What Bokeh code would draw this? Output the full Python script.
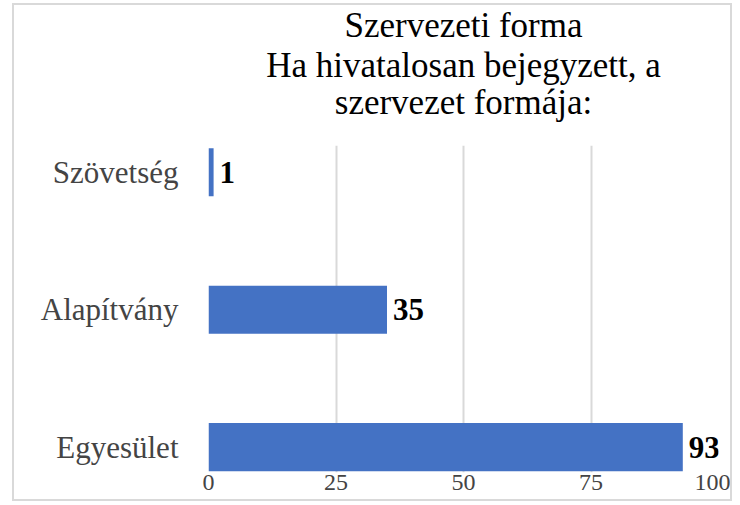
from bokeh.plotting import figure
from bokeh.models import Range1d, FixedTicker, Title, LabelSet, ColumnDataSource
from bokeh.embed import file_html
from bokeh.resources import INLINE

categories = ["Egyesület", "Alapítvány", "Szövetség"]
values = [93, 35, 1]
x_ticks = [0, 25, 50, 75, 100]
title_lines = ["Szervezeti forma", "Ha hivatalosan bejegyzett, a", "szervezet formája:"]

FONT = "'Times New Roman', serif"
positions = list(range(len(categories)))

source = ColumnDataSource(dict(y=positions, right=values, cat=categories,
                               label=[str(v) for v in values]))

p = figure(width=720, height=498, output_backend="svg", toolbar_location=None,
           x_range=Range1d(0, 100), y_range=Range1d(-0.185, 2.195),
           min_border_left=194, min_border_right=16, min_border_bottom=31,
           min_border_top=0)
p.styles = {"border": "2px solid #d9d9d9", "margin-left": "12px", "margin-top": "3px"}
p.outline_line_color = None
p.background_fill_color = "white"

p.hbar(y="y", right="right", left=0, height=0.35, source=source,
       fill_color="#4472C4", line_color=None)

labels = LabelSet(x="right", y="y", text="label", source=source, x_offset=6,
                  text_baseline="middle", text_font=FONT, text_font_style="bold",
                  text_font_size="31px", text_color="black")
p.add_layout(labels)

# blank spacer between the title block and the plot frame
p.add_layout(Title(text=" ", text_font_size="1px", standoff=26), "above")

standoffs = [-4, 2, -10]
for line, so in reversed(list(zip(title_lines, standoffs))):
    p.add_layout(Title(text=line, align="center", text_font=FONT,
                       text_font_size="35px", text_font_style="normal",
                       text_color="black", standoff=so, offset=4), "above")

p.xaxis.ticker = FixedTicker(ticks=x_ticks)
p.xaxis.axis_line_color = None
p.xaxis.major_tick_line_color = None
p.xaxis.minor_tick_line_color = None
p.xaxis.major_tick_out = 0
p.xaxis.major_label_text_font = FONT
p.xaxis.major_label_text_font_size = "24px"
p.xaxis.major_label_standoff = 2

p.yaxis.ticker = FixedTicker(ticks=positions)
p.yaxis.major_label_overrides = {i: c for i, c in enumerate(categories)}
p.yaxis.axis_line_color = None
p.yaxis.major_tick_line_color = None
p.yaxis.minor_tick_line_color = None
p.yaxis.major_tick_out = 0
p.yaxis.major_label_text_font = FONT
p.yaxis.major_label_text_font_size = "31px"
p.yaxis.major_label_standoff = 30

p.xgrid.grid_line_color = "#d9d9d9"
p.xgrid.grid_line_width = 2
p.ygrid.grid_line_color = None

open("out.html", "w").write(file_html(p, INLINE))
